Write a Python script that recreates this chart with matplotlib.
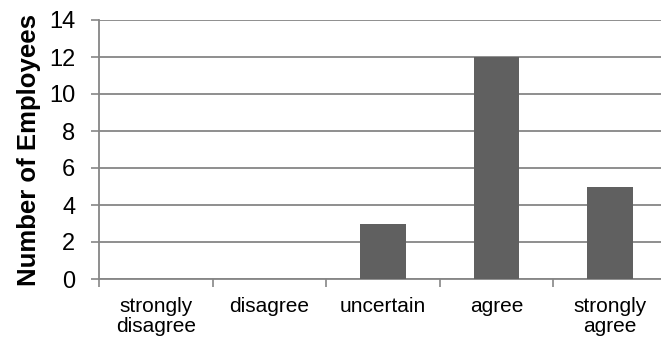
import numpy as np
import matplotlib.pyplot as plt

plt.rcParams['font.family'] = ['Liberation Sans', 'DejaVu Sans']

categories = ['strongly\ndisagree', 'disagree', 'uncertain', 'agree', 'strongly\nagree']
counts = [0, 0, 3, 12, 5]
yticks = [0, 2, 4, 6, 8, 10, 12, 14]

W, H = 661, 342
fig = plt.figure(figsize=(W / 100, H / 100), dpi=100)
# axes runs a little past the right edge, as in the cropped original
left, right, top, bottom = 99, 667, 20, 279
ax = fig.add_axes([left / W, 1 - bottom / H, (right - left) / W, (bottom - top) / H])

grid_col = '#868686'
x = np.arange(len(categories))
ax.bar(x, counts, width=0.4, color='#606060', zorder=3)

ax.set_xlim(-0.5, len(categories) - 0.5)
ax.set_ylim(0, 14)
ax.set_yticks(yticks)
ax.set_yticklabels([str(v) for v in yticks], fontsize=17)
ax.set_xticks(np.arange(len(categories) + 1) - 0.5)
ax.set_xticklabels([])
ax.set_xticks(x, minor=True)
ax.set_xticklabels(categories, minor=True, fontsize=15, linespacing=1.05)
ax.tick_params(axis='x', which='minor', length=0, pad=13)
ax.tick_params(axis='x', which='major', length=6, color=grid_col, width=1.2)
ax.tick_params(axis='y', length=6, color=grid_col, width=1.2, pad=11)

ax.grid(axis='y', color=grid_col, linewidth=1.3, zorder=0)
for s in ['top', 'right']:
    ax.spines[s].set_visible(False)
ax.spines['left'].set_color(grid_col)
ax.spines['left'].set_linewidth(1.3)
ax.spines['bottom'].set_color(grid_col)
ax.spines['bottom'].set_linewidth(1.3)

ax.set_ylabel('Number of Employees', fontsize=18.5, fontweight='bold', labelpad=6)

fig.savefig('out.png', dpi=100)
